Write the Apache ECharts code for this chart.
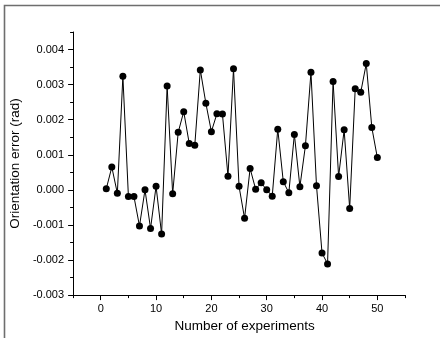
<!DOCTYPE html>
<html>
<head>
<meta charset="utf-8">
<script src="https://cdn.jsdelivr.net/npm/echarts@6/dist/echarts.min.js"></script>
<style>html,body{margin:0;padding:0;background:#fff;}#c{width:440px;height:338px;}</style>
</head>
<body>
<div id="c"></div>
<script>
var experiments = [];
for (var i = 1; i <= 50; i++) experiments.push(i);
var orientationError = [
  0.00003, 0.00065, -0.00010, 0.00324, -0.00019, -0.00019, -0.00103, 0.00000, -0.00110, 0.00010,
  -0.00126, 0.00296, -0.00011, 0.00164, 0.00223, 0.00132, 0.00127, 0.00342, 0.00247, 0.00166,
  0.00217, 0.00216, 0.00039, 0.00345, 0.00010, -0.00081, 0.00061, 0.00002, 0.00020, 0.00000,
  -0.00018, 0.00173, 0.00023, -0.00008, 0.00158, 0.00009, 0.00126, 0.00335, 0.00012, -0.00180,
  -0.00211, 0.00309, 0.00038, 0.00171, -0.00053, 0.00288, 0.00278, 0.00360, 0.00178, 0.00092
];
var xTickLabels = [0, 10, 20, 30, 40, 50];
var yTickLabels = [-0.003, -0.002, -0.001, 0.000, 0.001, 0.002, 0.003, 0.004];
var xName = 'Number of experiments';
var yName = 'Orientation error (rad)';

var pts = experiments.map(function (x, i) { return [x, orientationError[i]]; });
var font = 'Liberation Sans, Arial, sans-serif';
var chart = echarts.init(document.getElementById('c'));
chart.setOption({
  animation: false,
  backgroundColor: '#fff',
  grid: { left: 71, right: 35, top: 32, bottom: 39, containLabel: false },
  graphic: [{
    type: 'rect', silent: true,
    shape: { x: 4.5, y: 5.5, width: 700, height: 700 },
    style: { fill: 'none', stroke: '#6e6e6e', lineWidth: 1.6 }
  }],
  xAxis: [{
    type: 'value', min: -5, max: 55, interval: 10,
    axisLine: { show: true, onZero: false, lineStyle: { color: '#000', width: 1 } },
    axisTick: { show: true, inside: false, length: 3, lineStyle: { color: '#000' } },
    axisLabel: { show: false },
    splitLine: { show: false }
  }, {
    type: 'value', min: -5, max: 55, position: 'bottom',
    axisLine: { show: false, onZero: false },
    axisTick: { show: true, length: 5, customValues: xTickLabels, lineStyle: { color: '#000' } },
    axisLabel: { show: true, customValues: xTickLabels, margin: 8, color: '#000', fontSize: 11, fontFamily: font },
    splitLine: { show: false },
    name: xName, nameLocation: 'middle', nameGap: 20,
    nameTextStyle: { color: '#000', fontSize: 13.5, fontFamily: font, padding: [0, 0, 0, 11] }
  }],
  yAxis: [{
    type: 'value', min: -0.003, max: 0.0045, interval: 0.0005,
    axisLine: { show: true, onZero: false, lineStyle: { color: '#000', width: 1 } },
    axisTick: { show: true, length: 3, lineStyle: { color: '#000' } },
    axisLabel: { show: false },
    splitLine: { show: false }
  }, {
    type: 'value', min: -0.003, max: 0.0045, position: 'left',
    axisLine: { show: false, onZero: false },
    axisTick: { show: true, length: 5, customValues: yTickLabels, lineStyle: { color: '#000' } },
    axisLabel: { show: true, customValues: yTickLabels, margin: 9, color: '#000', fontSize: 11, fontFamily: font,
      formatter: function (v) { return v.toFixed(3); } },
    splitLine: { show: false },
    name: yName, nameLocation: 'middle', nameGap: 44, nameRotate: 90,
    nameTextStyle: { color: '#000', fontSize: 13.5, fontFamily: font }
  }],
  series: [{
    type: 'line', xAxisIndex: 0, yAxisIndex: 0,
    data: pts,
    symbol: 'circle', symbolSize: 7, showAllSymbol: true,
    lineStyle: { color: '#000', width: 1 },
    itemStyle: { color: '#000' }
  }]
});
</script>
</body>
</html>
